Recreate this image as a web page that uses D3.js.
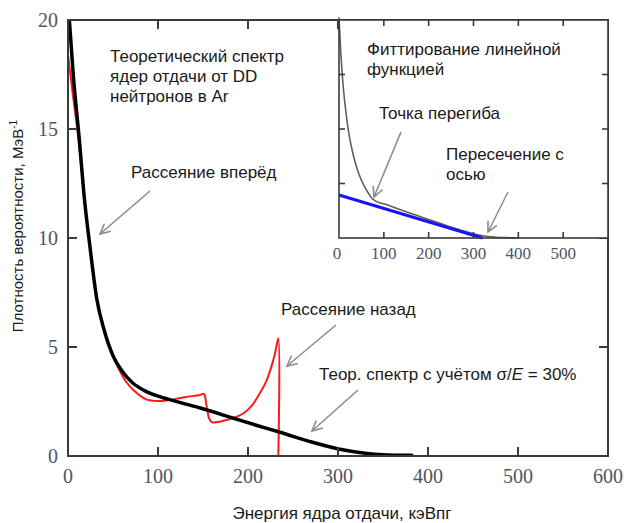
<!DOCTYPE html>
<html>
<head>
<meta charset="utf-8">
<script src="https://cdn.jsdelivr.net/npm/d3@7"></script>
<style>
  body { margin: 0; background: #fff; }
  svg { display: block; }
</style>
</head>
<body>
<svg id="chart"></svg>
<script>
let axisColor = "#3a3a3a";
let tickColor = "#505560";
let arrowColor = "#8c8c8c";

// main spectrum, pure theory (black)
const theoryE = [1.5, 6, 12.6, 18, 24.4, 32, 40, 50, 60, 72, 85, 102, 125, 147, 184, 210, 234, 269, 302, 330, 350, 382];
const theoryP = [20, 17.4, 14.5, 11.9, 9.6, 7.2, 5.8, 4.6, 3.9, 3.35, 3.0, 2.72, 2.45, 2.2, 1.73, 1.4, 1.11, 0.66, 0.31, 0.13, 0.06, 0.03];

// spectrum with sigma/E = 30% (red)
const smearE = [0, 5, 11.4, 18, 24.4, 32, 40, 50, 54, 63, 72.6, 87, 100, 110, 130, 147, 151, 154, 157, 160, 168, 176, 186, 195, 205, 213, 220, 226, 230, 233.7, 233.7];
const smearP = [18.4, 16.7, 14.6, 11.9, 9.6, 7.2, 5.8, 4.6, 4.2, 3.5, 3.03, 2.6, 2.52, 2.55, 2.7, 2.8, 2.85, 2.3, 1.7, 1.55, 1.57, 1.65, 1.78, 1.96, 2.35, 2.87, 3.4, 4.1, 4.7, 5.4, 0];

// inset: spectrum and linear fit
const insetE = [0, 3, 6, 10, 15, 20, 31, 40, 50, 62, 76, 110, 150, 200, 250, 290, 320, 350, 380, 400];
const insetP = [4.05, 3.55, 3.15, 2.72, 2.34, 2.02, 1.55, 1.28, 1.06, 0.87, 0.71, 0.6, 0.48, 0.34, 0.2, 0.1, 0.04, 0.015, 0.005, 0];
const fitE = [0, 320];
const fitP = [0.79, 0];

const xTicks = [0, 100, 200, 300, 400, 500, 600];
const yTicks = [0, 5, 10, 15, 20];
const insetXTicks = [0, 100, 200, 300, 400, 500];
const insetYTicks = [1, 2, 3];

const width = 629;
const height = 523;

const margin = { top: 20, right: 21, bottom: 67, left: 68 };
const boundedWidth = width - margin.left - margin.right;
const boundedHeight = height - margin.top - margin.bottom;

const svg = d3.select("#chart")
  .attr("width", width)
  .attr("height", height)
  .style("font-family", "'Liberation Sans', Arial, sans-serif");

const xScale = d3.scaleLinear().domain([0, 600]).range([margin.left, margin.left + boundedWidth]);
const yScale = d3.scaleLinear().domain([0, 20]).range([margin.top + boundedHeight, margin.top]);

// arrow marker
svg.append("defs").append("marker")
  .attr("id", "arrow")
  .attr("viewBox", "0 0 12 12")
  .attr("refX", 11).attr("refY", 6)
  .attr("markerWidth", 12).attr("markerHeight", 12)
  .attr("markerUnits", "userSpaceOnUse")
  .attr("orient", "auto")
  .append("path")
  .attr("d", "M1,1 L11,6 L1,11")
  .attr("fill", "none")
  .attr("stroke", arrowColor)
  .attr("stroke-width", 1.6);

svg.select("defs").append("clipPath")
  .attr("id", "plotClip")
  .append("rect")
  .attr("x", margin.left).attr("y", margin.top)
  .attr("width", boundedWidth).attr("height", boundedHeight);

//curves
const g = svg.append("g").attr("clip-path", "url(#plotClip)");

const smearLine = d3.line()
  .x((d, i) => xScale(smearE[i]))
  .y(d => yScale(d))
  .curve(d3.curveCatmullRom.alpha(0.5));

g.append("path")
  .attr("d", smearLine(smearP))
  .attr("fill", "none")
  .attr("stroke", "#ff1a1a")
  .attr("stroke-width", 2);

const theoryLine = d3.line()
  .x((d, i) => xScale(theoryE[i]))
  .y(d => yScale(d))
  .curve(d3.curveMonotoneX);

g.append("path")
  .attr("d", theoryLine(theoryP))
  .attr("fill", "none")
  .attr("stroke", "#000")
  .attr("stroke-width", 3.5)
  .attr("stroke-linecap", "round");

//axes, ticks inward on all sides
function frame(sel, xs, ys, xt, yt, tlen, sw) {
  const [x0, x1] = xs.range();
  const [y0, y1] = ys.range();
  sel.append("rect")
    .attr("x", x0).attr("y", y1)
    .attr("width", x1 - x0).attr("height", y0 - y1)
    .attr("fill", "none")
    .attr("stroke", axisColor)
    .attr("stroke-width", sw);
  xt.forEach(t => {
    sel.append("line").attr("x1", xs(t)).attr("x2", xs(t)).attr("y1", y0).attr("y2", y0 - tlen)
      .attr("stroke", axisColor).attr("stroke-width", sw);
    sel.append("line").attr("x1", xs(t)).attr("x2", xs(t)).attr("y1", y1).attr("y2", y1 + tlen)
      .attr("stroke", axisColor).attr("stroke-width", sw);
  });
  yt.forEach(t => {
    sel.append("line").attr("x1", x0).attr("x2", x0 + tlen).attr("y1", ys(t)).attr("y2", ys(t))
      .attr("stroke", axisColor).attr("stroke-width", sw);
    sel.append("line").attr("x1", x1).attr("x2", x1 - tlen).attr("y1", ys(t)).attr("y2", ys(t))
      .attr("stroke", axisColor).attr("stroke-width", sw);
  });
}

frame(svg, xScale, yScale, xTicks, yTicks, 9, 2);

svg.append("g").selectAll("text")
  .data(xTicks)
  .join("text")
  .attr("x", d => xScale(d))
  .attr("y", yScale(0) + 27)
  .attr("text-anchor", "middle")
  .attr("fill", tickColor)
  .style("font-family", "'Liberation Serif', 'Times New Roman', serif")
  .style("font-size", "20px")
  .text(d => d);

svg.append("g").selectAll("text")
  .data(yTicks)
  .join("text")
  .attr("x", xScale(0) - 10)
  .attr("y", d => yScale(d) + 7)
  .attr("text-anchor", "end")
  .attr("fill", tickColor)
  .style("font-family", "'Liberation Serif', 'Times New Roman', serif")
  .style("font-size", "20px")
  .text(d => d);

//inset
const ixScale = d3.scaleLinear().domain([0, 600]).range([339, margin.left + boundedWidth]);
const iyScale = d3.scaleLinear().domain([0, 4]).range([238, margin.top]);

const inset = svg.append("g");

inset.append("rect")
  .attr("x", 339).attr("y", margin.top)
  .attr("width", ixScale.range()[1] - 339).attr("height", 238 - margin.top)
  .attr("fill", "#fff");

inset.append("path")
  .attr("d", d3.line()
    .x((d, i) => ixScale(insetE[i]))
    .y(d => iyScale(d))
    .curve(d3.curveMonotoneX)(insetP))
  .attr("fill", "none")
  .attr("stroke", "#606060")
  .attr("stroke-width", 1.6);

inset.append("path")
  .attr("d", d3.line()
    .x((d, i) => ixScale(fitE[i]))
    .y(d => iyScale(d))(fitP))
  .attr("fill", "none")
  .attr("stroke", "#1414ff")
  .attr("stroke-width", 3);

frame(inset, ixScale, iyScale, insetXTicks.slice(1), insetYTicks, 6, 1.6);

inset.append("g").selectAll("text")
  .data(insetXTicks)
  .join("text")
  .attr("x", d => ixScale(d) - (d === 0 ? 2 : 0))
  .attr("y", 238 + 21)
  .attr("text-anchor", "middle")
  .attr("fill", tickColor)
  .style("font-family", "'Liberation Serif', 'Times New Roman', serif")
  .style("font-size", "17px")
  .text(d => d);

//annotations
function label(lines, x, y, step, size) {
  const t = svg.append("text")
    .attr("x", x).attr("y", y)
    .attr("fill", "#1a1a1a")
    .style("font-size", size + "px");
  lines.forEach((s, i) => {
    t.append("tspan").attr("x", x).attr("y", y + i * step).text(s);
  });
  return t;
}

function arrow(x1, y1, x2, y2) {
  svg.append("line")
    .attr("x1", x1).attr("y1", y1)
    .attr("x2", x2).attr("y2", y2)
    .attr("stroke", arrowColor)
    .attr("stroke-width", 1.6)
    .attr("marker-end", "url(#arrow)");
}

label(["Теоретический спектр", "ядер отдачи от DD", "нейтронов в Ar"], 110, 62, 20, 17);
label(["Рассеяние вперёд"], 131, 178, 20, 17);
arrow(150, 191, 100, 234);
label(["Рассеяние назад"], 281, 315, 20, 17);
arrow(336, 325, 287, 366);

const sigma = label([""], 319, 380, 20, 17);
sigma.append("tspan").text("Теор. спектр с учётом ");
sigma.append("tspan").text("σ/");
sigma.append("tspan").style("font-style", "italic").text("E");
sigma.append("tspan").text(" = 30%");
arrow(358, 390, 312, 431);

label(["Фиттирование линейной", "функцией"], 367, 55, 20, 17);
label(["Точка перегиба"], 379, 119, 20, 17);
arrow(401, 132, 374, 197);
label(["Пересечение с", "осью"], 446, 160, 20, 17);
arrow(508, 192, 488, 232);

//axis titles
svg.append("text")
  .attr("x", 342)
  .attr("y", 519)
  .attr("text-anchor", "middle")
  .attr("fill", "#1a1a1a")
  .style("font-size", "17px")
  .text("Энергия ядра отдачи, кэВпг");

const yTitle = svg.append("text")
  .attr("transform", `translate(23, ${margin.top + boundedHeight / 2 - 12}) rotate(-90)`)
  .attr("text-anchor", "middle")
  .attr("fill", "#1a1a1a")
  .style("font-size", "15px");
yTitle.append("tspan").text("Плотность вероятности, МэВ");
yTitle.append("tspan").attr("dy", -6).style("font-size", "10px").text("-1");
</script>
</body>
</html>
